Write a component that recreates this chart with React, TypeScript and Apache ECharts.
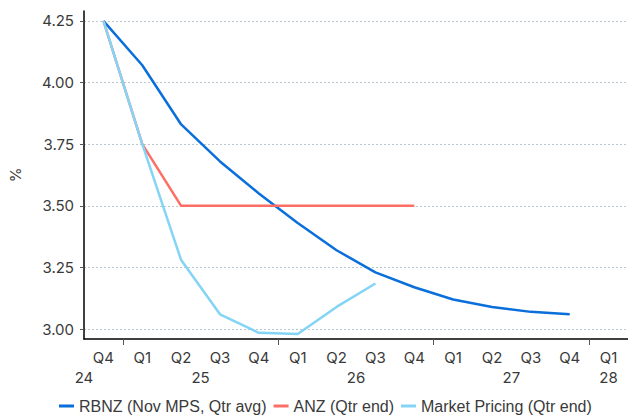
import React, { useEffect, useRef } from "react";
import * as echarts from "echarts";

const quarterLabels = ["Q4", "Q1", "Q2", "Q3", "Q4", "Q1", "Q2", "Q3", "Q4", "Q1", "Q2", "Q3", "Q4", "Q1"];
const yearLabelPositions = [0, 3, 7, 11, 13.5];
const yearLabels = ["24", "25", "26", "27", "28"];
const yearBoundaryTicks = [1, 5, 9, 13];
const yTicks = [3.0, 3.25, 3.5, 3.75, 4.0, 4.25];

const rbnz = [4.25, 4.07, 3.83, 3.68, 3.55, 3.43, 3.32, 3.23, 3.17, 3.12, 3.09, 3.07, 3.06];
const anz = [4.25, 3.75, 3.5, 3.5, 3.5, 3.5, 3.5, 3.5, 3.5];
const market = [4.25, 3.75, 3.28, 3.06, 2.985, 2.98, 3.09, 3.185];

const FONT = "Inter, 'Liberation Sans', sans-serif";
const LFONT = "'Liberation Sans', Arial, sans-serif";
const TXT = "#3a3a3a";

export default function App() {
  const ref = useRef<HTMLDivElement>(null);
  useEffect(() => {
    if (!ref.current) return;
    const chart = echarts.init(ref.current, null, { renderer: "svg" });
    const cats = quarterLabels.map((q, i) => `${q}-${i}`);
    chart.setOption({
      animation: false,
      grid: { left: 83, right: -4.5, top: 11, bottom: 80, containLabel: false },
      legend: {
        left: 59,
        top: 398,
        padding: 0,
        itemWidth: 15,
        itemHeight: 3,
        itemGap: 7,
        icon: "rect",
        textStyle: { fontFamily: LFONT, fontSize: 16, color: TXT },
        data: ["RBNZ (Nov MPS, Qtr avg)", "ANZ (Qtr end)", "Market Pricing (Qtr end)"],
      },
      xAxis: [
        {
          type: "category",
          data: cats,
          boundaryGap: true,
          axisLine: { lineStyle: { color: "#000", width: 1.5 } },
          axisTick: { length: 3, lineStyle: { color: "#555" } },
          axisLabel: {
            interval: 0,
            margin: 11,
            fontFamily: FONT,
            fontSize: 15,
            color: TXT,
            formatter: (v: string) => v.split("-")[0],
          },
          splitLine: { show: false },
        },
        {
          type: "value",
          position: "bottom",
          min: 0,
          max: 14,
          axisLine: { show: false },
          axisTick: { show: true, customValues: yearBoundaryTicks, length: 6, lineStyle: { color: "#555" } },
          axisLabel: {
            customValues: yearLabelPositions,
            showMinLabel: true,
            showMaxLabel: true,
            margin: 31,
            fontFamily: FONT,
            fontSize: 15,
            color: TXT,
            formatter: (v: number) => {
              const i = yearLabelPositions.indexOf(v);
              return i >= 0 ? yearLabels[i] : "";
            },
          },
          splitLine: { show: false },
        },
      ],
      yAxis: {
        type: "value",
        min: 2.96,
        max: 4.29,
        name: "%",
        nameLocation: "middle",
        nameGap: 61,
        nameRotate: 90,
        nameTextStyle: { fontFamily: FONT, fontSize: 15, color: TXT },
        axisLine: { show: true, lineStyle: { color: "#000", width: 1.5 } },
        axisTick: { show: true, length: 4, customValues: yTicks, lineStyle: { color: "#555" } },
        axisLabel: {
          customValues: yTicks,
          margin: 10,
          fontFamily: FONT,
          fontSize: 15,
          color: TXT,
          formatter: (v: number) => v.toFixed(2),
        },
        splitLine: { show: true, lineStyle: { color: "#b8c7d2", type: [2, 2], width: 1 } },
      },
      series: [
        {
          name: "RBNZ (Nov MPS, Qtr avg)",
          type: "line",
          data: rbnz,
          symbol: "none",
          lineStyle: { color: "#0a6edb", width: 2.5 },
          itemStyle: { color: "#0a6edb" },
        },
        {
          name: "ANZ (Qtr end)",
          type: "line",
          data: anz,
          symbol: "none",
          lineStyle: { color: "#fd6f64", width: 2.5 },
          itemStyle: { color: "#fd6f64" },
        },
        {
          name: "Market Pricing (Qtr end)",
          type: "line",
          data: market,
          symbol: "none",
          lineStyle: { color: "#84d4f6", width: 2.5 },
          itemStyle: { color: "#84d4f6" },
        },
      ],
    });
    return () => chart.dispose();
  }, []);
  return <div ref={ref} style={{ width: 628, height: 419, position: "absolute", left: 0, top: 0 }} />;
}
